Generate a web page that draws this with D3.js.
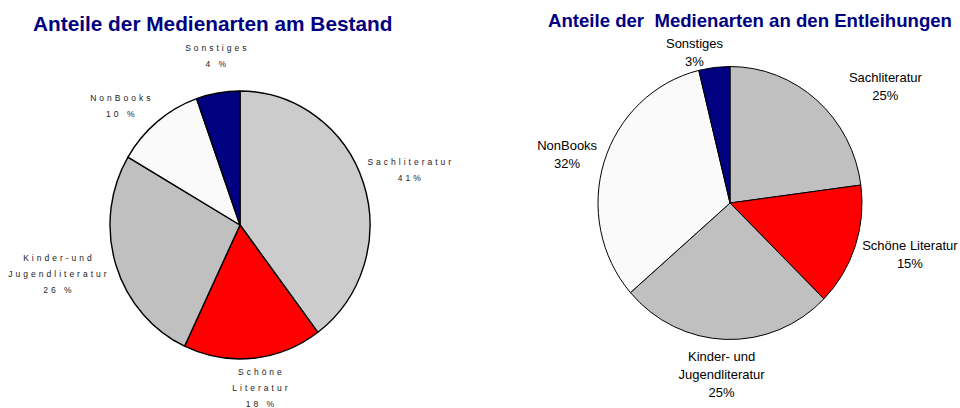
<!DOCTYPE html>
<html>
<head>
<meta charset="utf-8">
<script src="https://cdn.jsdelivr.net/npm/d3@7"></script>
<style>
  body { margin: 0; background: #fff; }
  svg { display: block; font-family: "Liberation Sans", Arial, sans-serif; }
</style>
</head>
<body>
<div class="charts"></div>
<script>
// Categories (same order in both pies, clockwise from 12 o'clock)
const CATEGORIES = ["Sachliteratur", "Schöne Literatur", "Kinder- und Jugendliteratur", "NonBooks", "Sonstiges"];

// Left pie: shares of the stock (slice sizes as drawn, labels as printed)
const BESTAND_VALUES = [39.7, 17.2, 26.4, 11.1, 5.4];
const BESTAND_LABELS = [["Sachliteratur", "41%"], ["Schöne", "Literatur", "18 %"], ["Kinder-und", "Jugendliteratur", "26 %"], ["NonBooks", "10 %"], ["Sonstiges", "4 %"]];

// Right pie: shares of the loans
const ENTLEIH_VALUES = [22.9, 14.5, 26.2, 32.6, 3.8];
const ENTLEIH_LABELS = [["Sachliteratur", "25%"], ["Schöne Literatur", "15%"], ["Kinder- und", "Jugendliteratur", "25%"], ["NonBooks", "32%"], ["Sonstiges", "3%"]];

const BESTAND_COLORS = ["#cccccc", "#ff0000", "#c0c0c0", "#fafafa", "#000080"];
const ENTLEIH_COLORS = ["#c0c0c0", "#ff0000", "#c0c0c0", "#fafafa", "#000080"];

const WIDTH = 960;
const HEIGHT = 408;

const svg = d3.select(".charts").append("svg")
  .attr("width", WIDTH)
  .attr("height", HEIGHT);

svg.append("rect").attr("width", WIDTH).attr("height", HEIGHT).attr("fill", "#fff");

// one pie chart
function drawPie(opts) {
  const pie = d3.pie().sort(null).value(d => d);
  const arcs = pie(opts.values);
  const arc = d3.arc().innerRadius(0).outerRadius(opts.rx);
  const sy = opts.ry / opts.rx;

  const g = svg.append("g")
    .attr("transform", `translate(${opts.cx}, ${opts.cy})`);

  g.append("g")
    .attr("transform", `scale(1, ${sy})`)
    .selectAll("path").data(arcs).enter().append("path")
    .attr("d", arc)
    .attr("fill", (d, i) => opts.colors[i])
    .attr("stroke", "#000")
    .attr("stroke-width", opts.strokeWidth)
    .attr("stroke-linejoin", "round")
    .attr("vector-effect", "non-scaling-stroke");

  // labels: placed around the slice middle, with a hand-tuned distance and angle nudge
  const labels = g.append("g").attr("class", "labels");
  arcs.forEach((d, i) => {
    const r = opts.labelRadius[i];
    const a = (d.startAngle + d.endAngle) / 2 + opts.labelNudge[i] * Math.PI / 180;
    const lx = r * Math.sin(a);
    const ly = -r * Math.cos(a);
    const lines = opts.labels[i];
    const n = lines.length;
    const t = labels.append("text")
      .attr("text-anchor", "middle")
      .attr("font-size", opts.fontSize)
      .attr("letter-spacing", opts.letterSpacing)
      .attr("fill", opts.labelColor);
    lines.forEach((line, j) => {
      t.append("tspan")
        .attr("x", lx + opts.letterSpacing / 2)
        .attr("y", ly + (j - (n - 1) / 2) * opts.lineHeight + opts.fontSize * 0.35)
        .text(line);
    });
  });

  svg.append("text")
    .attr("x", opts.titleX)
    .attr("y", opts.titleY)
    .attr("font-size", opts.titleSize)
    .attr("font-weight", "bold")
    .attr("fill", "#000080")
    .style("white-space", "pre")
    .text(opts.title);
}

drawPie({
  title: "Anteile der Medienarten am Bestand",
  titleX: 33, titleY: 31, titleSize: 20.8,
  values: BESTAND_VALUES,
  labels: BESTAND_LABELS,
  colors: BESTAND_COLORS,
  cx: 240, cy: 225, rx: 130, ry: 134,
  strokeWidth: 1.4,
  labelRadius: [178, 164, 189, 169, 171],
  labelNudge: [0.4, -1.2, 2.1, -5.6, 1.6],
  fontSize: 8.5, letterSpacing: 3, lineHeight: 16, labelColor: "#222"
});

drawPie({
  title: "Anteile der  Medienarten an den Entleihungen",
  titleX: 548, titleY: 27, titleSize: 18.6,
  values: ENTLEIH_VALUES,
  labels: ENTLEIH_LABELS,
  colors: ENTLEIH_COLORS,
  cx: 730, cy: 203, rx: 132, ry: 136.5,
  strokeWidth: 1,
  labelRadius: [194, 187, 172, 170, 155],
  labelNudge: [12, -2.7, 1, -1, -6.4],
  fontSize: 13, letterSpacing: 0, lineHeight: 18, labelColor: "#000"
});
</script>
</body>
</html>
